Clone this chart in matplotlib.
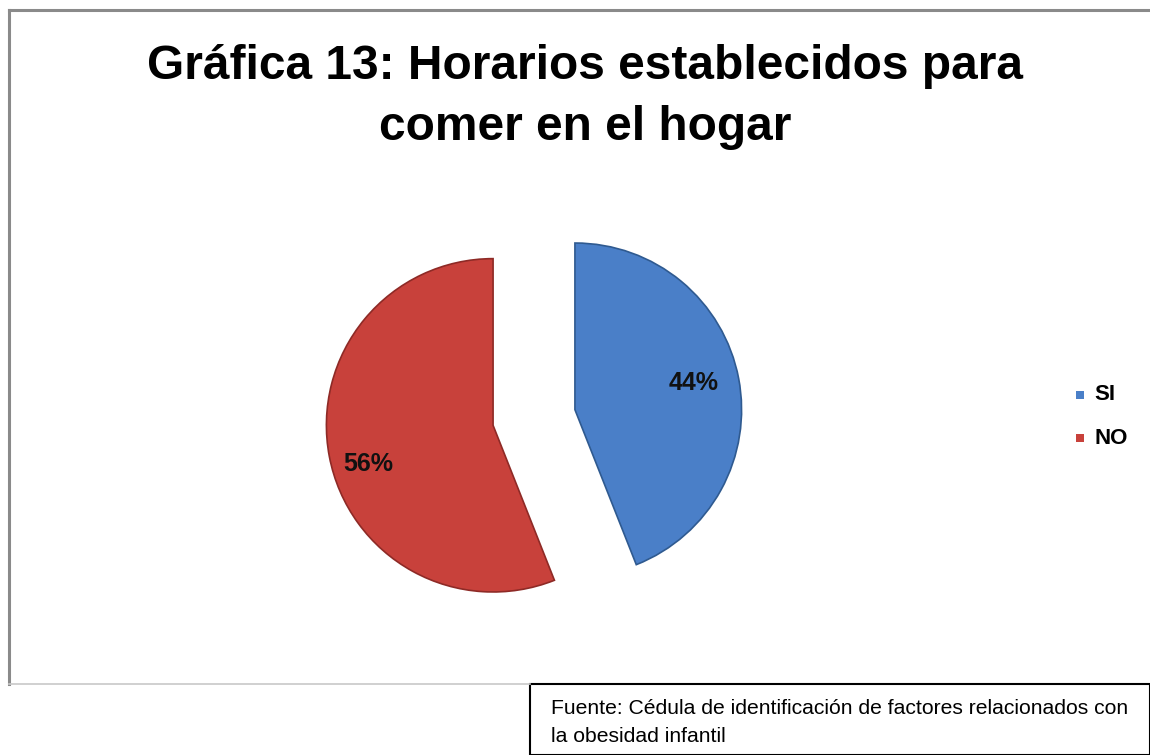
import matplotlib
matplotlib.use("Agg")
import matplotlib.pyplot as plt
from matplotlib.patches import Rectangle
from matplotlib.lines import Line2D

# Data
categories = ["SI", "NO"]
values = [44, 56]
colors = ["#4a7fc8", "#c8413b"]
edge_colors = ["#2f5a90", "#8e2a26"]
title_text = "Gráfica 13: Horarios establecidos para\ncomer en el hogar"
source_text = "Fuente: Cédula de identificación de factores relacionados con\nla obesidad infantil"

W, H = 1150, 755
fig = plt.figure(figsize=(W / 100, H / 100), dpi=100)
fig.patch.set_facecolor("white")


def fx(px):
    return px / W


def fy(py):
    return 1 - py / H


# Chart-area frame
fig.add_artist(Line2D([fx(9), fx(1150)], [fy(10), fy(10)], color="#8a8a8a", lw=2.2))
fig.add_artist(Line2D([fx(9), fx(9)], [fy(10), fy(684)], color="#8a8a8a", lw=2.2))
fig.add_artist(Line2D([fx(9), fx(530)], [fy(684), fy(684)], color="#c8c8c8", lw=1.2))

# Title
fig.text(fx(585), fy(97), title_text, ha="center", va="center",
         fontsize=34.5, fontweight="bold", family="Liberation Sans",
         color="black", linespacing=1.48)

# Pie
cx, cy, half = 534, 417.5, 250
ax = fig.add_axes([fx(cx - half), fy(cy + half), 2 * half / W, 2 * half / H])
wedges, texts, autotexts = ax.pie(
    values, colors=colors, startangle=90, counterclock=False,
    explode=(0.25, 0.25), radius=1, autopct="%d%%", pctdistance=0.76,
    wedgeprops=dict(linewidth=1.2),
    textprops=dict(fontsize=18, fontweight="bold", family="Liberation Sans",
                   color="#111111"))
for w, ec in zip(wedges, edge_colors):
    w.set_edgecolor(ec)
# nudge the percentage labels slightly inside their wedges
label_nudge = [(-0.035, 0.02), (0.0, -0.09)]
for t, (dx, dy) in zip(autotexts, label_nudge):
    x0, y0 = t.get_position()
    t.set_position((x0 + dx, y0 + dy))
ax.set_xlim(-1.5, 1.5)
ax.set_ylim(-1.5, 1.5)
ax.set_axis_off()

# Legend
leg_y = [395, 438]
for cat, col, ly in zip(categories, colors, leg_y):
    fig.add_artist(Rectangle((fx(1076), fy(ly + 4)), 8 / W, 8 / H,
                             facecolor=col, edgecolor="none"))
    fig.text(fx(1094), fy(ly), cat, ha="left", va="center", fontsize=16,
             fontweight="bold", family="Liberation Sans", color="black")

# Source box
fig.add_artist(Rectangle((fx(530), fy(755)), (W - 530) / W, (755 - 684) / H,
                         facecolor="white", edgecolor="black", lw=1.5))
fig.text(fx(551), fy(722), source_text, ha="left", va="center",
         fontsize=15.2, family="Liberation Sans", color="black",
         linespacing=1.6)

fig.savefig("out.png", dpi=100, facecolor="white")
